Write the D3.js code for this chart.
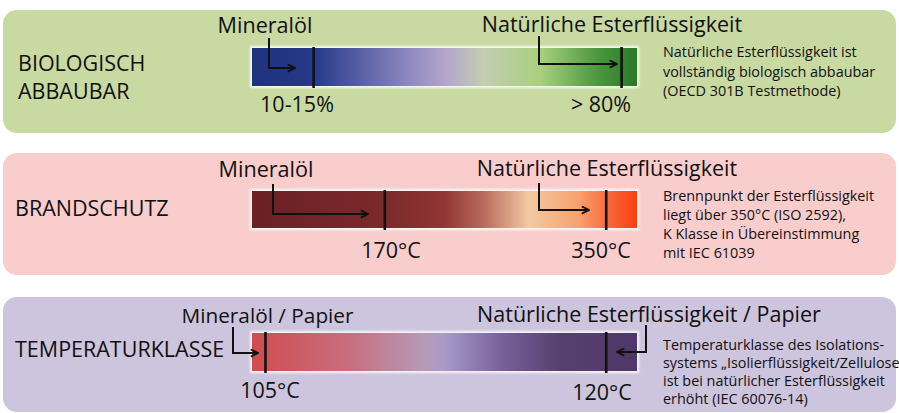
<!DOCTYPE html>
<html><head><meta charset="utf-8">
<script src="https://cdn.jsdelivr.net/npm/d3@7"></script>
<style>body{margin:0;background:#fff}svg{display:block}text{font-family:"Open Sans",sans-serif;fill:#111}</style>
</head><body>
<svg id="c" width="899" height="413"></svg>
<script>
// ---- data ----
const categories = ["BIOLOGISCH\nABBAUBAR", "BRANDSCHUTZ", "TEMPERATURKLASSE"];
const mineralLabels = ["Mineralöl", "Mineralöl", "Mineralöl / Papier"];
const esterLabels = ["Natürliche Esterflüssigkeit", "Natürliche Esterflüssigkeit", "Natürliche Esterflüssigkeit / Papier"];
const mineralValues = ["10-15%", "170°C", "105°C"];
const esterValues = ["> 80%", "350°C", "120°C"];
const mineralPos = [0.16, 0.345, 0.035];   // relative position on the scale bar
const esterPos = [0.96, 0.92, 0.92];
const notes = [
  ["Natürliche Esterflüssigkeit ist", "vollständig biologisch abbaubar", "(OECD 301B Testmethode)"],
  ["Brennpunkt der Esterflüssigkeit", "liegt über 350°C (ISO 2592),", "K Klasse in Übereinstimmung", "mit IEC 61039"],
  ["Temperaturklasse des Isolations-", "systems „Isolierflüssigkeit/Zellulose", "ist bei natürlicher Esterflüssigkeit", "erhöht (IEC 60076-14)"]
];

// ---- styles / layout ----
const panelFill = ["#c8d9a2", "#f9cdcc", "#cdc4dd"];
const gradStops = [
  [[0,"#1e327e"],[0.16,"#26398a"],[0.4,"#8a86bf"],[0.5,"#b2a5cb"],[0.6,"#c4ccb2"],[0.75,"#a8d07e"],[0.9,"#4a963e"],[1,"#2a7a26"]],
  [[0,"#6a2024"],[0.35,"#7c2a2b"],[0.5,"#923634"],[0.6,"#b86a5c"],[0.72,"#f2caa2"],[0.85,"#f8a06e"],[0.95,"#f85a2a"],[1,"#ff3e0e"]],
  [[0,"#d04c4e"],[0.25,"#c86e7e"],[0.45,"#b59ab8"],[0.5,"#a99ac9"],[0.65,"#76609a"],[0.8,"#56406e"],[1,"#4c3868"]]
];
const panels = [{y0:10,y1:133},{y0:153,y1:275},{y0:297,y1:412}];
const bars = [{y0:48,y1:86},{y0:191,y1:228},{y0:333,y1:371}];
const labelX = [18,15,15];
const labelBase = [[71,99],[216],[357]];
const mLabelX = [265,266,267.5], eLabelX = [612,607,649];
const topLabelY = [[33,32],[177,176],[323,322]];
const valueY = [112,258,398];
const mValueX = [297,391,270], eValueX = [601,601,602];
const noteY0 = [57,201,350], noteDy = [19.5,19,18];
// arrows: [vertical x, top y, elbow y, end x]
const mArrows = [[269,38,68,295],[273,184,214,368],[233,327,353,258]];
const eArrows = [[539,36,64,617],[539,183,210,589],[646,325,352,617]];

const svg = d3.select("#c");
const x = d3.scaleLinear().domain([0,1]).range([252,637]);
const defs = svg.append("defs");
defs.append("filter").attr("id","glow").attr("x","-5%").attr("y","-20%").attr("width","110%").attr("height","140%")
  .append("feGaussianBlur").attr("stdDeviation",1.2);
const mk = defs.append("marker").attr("id","ah").attr("viewBox","0 0 10 10").attr("refX",9).attr("refY",5)
  .attr("markerWidth",9).attr("markerHeight",9).attr("markerUnits","userSpaceOnUse").attr("orient","auto");
mk.append("path").attr("d","M1,1 L9,5 L1,9").attr("fill","none").attr("stroke","#111").attr("stroke-width",2);

categories.forEach((cat,i)=>{
  const g = svg.append("g");
  const p = panels[i], b = bars[i];
  g.append("rect").attr("x",3).attr("y",p.y0).attr("width",893).attr("height",p.y1-p.y0)
    .attr("rx",14).attr("fill",panelFill[i]);
  const lg = defs.append("linearGradient").attr("id","g"+i);
  gradStops[i].forEach(s=>lg.append("stop").attr("offset",s[0]).attr("stop-color",s[1]));
  g.append("rect").attr("x",x(0)-2).attr("y",b.y0-2).attr("width",x(1)-x(0)+4).attr("height",b.y1-b.y0+4)
    .attr("fill","#fff").attr("opacity",0.85).attr("filter","url(#glow)");
  g.append("rect").attr("x",x(0)).attr("y",b.y0).attr("width",x(1)-x(0)).attr("height",b.y1-b.y0).attr("fill","url(#g"+i+")");
  // markers
  [mineralPos[i], esterPos[i]].forEach(v=>{
    g.append("line").attr("x1",x(v)).attr("x2",x(v)).attr("y1",b.y0-1).attr("y2",b.y1+2)
      .attr("stroke","#111").attr("stroke-width",2.6);
  });
  // arrows
  [mArrows[i], eArrows[i]].forEach(a=>{
    g.append("path").attr("d",`M${a[0]},${a[1]} V${a[2]} H${a[3]}`).attr("fill","none")
      .attr("stroke","#111").attr("stroke-width",2).attr("marker-end","url(#ah)");
  });
  // category label
  cat.split("\n").forEach((t,k)=>{
    g.append("text").attr("x",labelX[i]).attr("y",labelBase[i][k]).attr("font-size",21.5).text(t);
  });
  // top labels
  g.append("text").attr("x",mLabelX[i]).attr("y",topLabelY[i][0]).attr("text-anchor","middle").attr("font-size",i===2?20.8:21.6).text(mineralLabels[i]);
  g.append("text").attr("x",eLabelX[i]).attr("y",topLabelY[i][1]).attr("text-anchor","middle").attr("font-size",21.5).text(esterLabels[i]);
  // values
  g.append("text").attr("x",mValueX[i]).attr("y",valueY[i]).attr("text-anchor","middle").attr("font-size",21.5).text(mineralValues[i]);
  g.append("text").attr("x",eValueX[i]).attr("y",valueY[i] + (i===2?2:0)).attr("text-anchor","middle").attr("font-size",21.5).text(esterValues[i]);
  // notes
  notes[i].forEach((t,k)=>{
    g.append("text").attr("x",663).attr("y",noteY0[i]+k*noteDy[i]).attr("font-size",14.4).text(t);
  });
});
</script>
</body></html>
